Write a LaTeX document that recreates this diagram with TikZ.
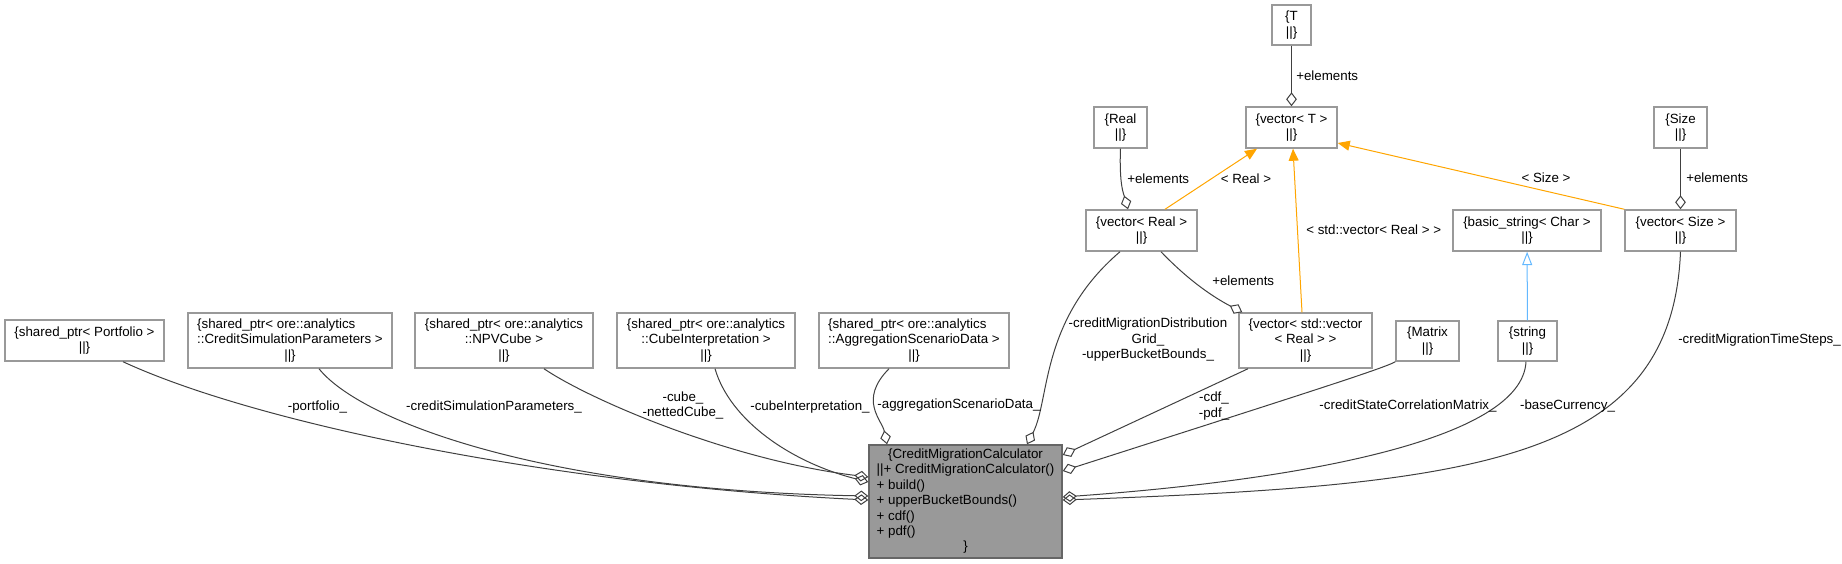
\documentclass[tikz,border=0pt]{standalone}
\usepackage{fontspec}
\setmainfont{Liberation Sans}
\usepackage{tikz}
\usetikzlibrary{arrows.meta}
\usetikzlibrary{calc}

\definecolor{boxgray}{HTML}{999999}
\definecolor{maingray}{HTML}{666666}
\definecolor{mainfill}{HTML}{999999}
\definecolor{edgegray}{HTML}{404040}
\definecolor{tmplorange}{HTML}{FFA500}
\definecolor{inhblue}{HTML}{63B8FF}

% first line flush left under a longer second line
\newlength{\firstwd}
\newcommand{\firstleft}[2]{\settowidth{\firstwd}{#2}\makebox[\firstwd][l]{#1}\\#2}

\begin{document}
\begin{tikzpicture}[x=0.75pt, y=-0.75pt,
    font=\fontsize{10}{11.6}\selectfont,
    sz/.style 2 args={minimum width=#1*0.75pt, minimum height=#2*0.75pt},
    box/.style={draw=boxgray, line width=1.1pt, fill=white, inner sep=0pt, align=center},
    mainbox/.style={draw=maingray, line width=1.1pt, fill=mainfill, inner sep=0pt},
    comp/.style={draw=edgegray, line width=0.75pt, -{Diamond[open, length=10.5pt, width=8pt]}},
    tmpl/.style={draw=tmplorange, line width=0.75pt, -{Triangle[length=9pt, width=7.5pt]}},
    inh/.style={draw=inhblue, line width=0.75pt, -{Triangle[open, length=10pt, width=7.5pt]}},
    lbl/.style={inner sep=0pt, align=center}]
      \useasboundingbox (0,0) rectangle (1842,564);

      % Members held through shared pointers
      \node[box, sz={159}{41}] (portfolio) at (84.5,340.5) {\{shared\_ptr< Portfolio >\\||\}};
      \node[box, sz={204}{55}] (creditsim) at (290,340.5) {\firstleft{\{shared\_ptr< ore::analytics}{::CreditSimulationParameters >}\\||\}};
      \node[box, sz={178}{55}] (npvcube) at (504,340.5) {\{shared\_ptr< ore::analytics\\::NPVCube >\\||\}};
      \node[box, sz={178}{55}] (cubeinterp) at (706,340.5) {\{shared\_ptr< ore::analytics\\::CubeInterpretation >\\||\}};
      \node[box, sz={190}{55}] (aggscen) at (914,340.5) {\firstleft{\{shared\_ptr< ore::analytics}{::AggregationScenarioData >}\\||\}};

      % The calculator itself
      \node[mainbox, sz={193}{113}] (main) at (965.5,501.5) {\begin{tabular}{@{}l@{}}
        \multicolumn{1}{@{}c@{}}{\{CreditMigrationCalculator}\\
        ||+ CreditMigrationCalculator()\\
        + build()\\
        + upperBucketBounds()\\
        + cdf()\\
        + pdf()\\
        \multicolumn{1}{@{}c@{}}{\}}
      \end{tabular}};

      % Vector templates
      \node[box, sz={39}{40}] (tT) at (1291.5,25) {\{T\\||\}};
      \node[box, sz={91}{41}] (vect) at (1291.5,127.5) {\{vector< T >\\||\}};
      \node[box, sz={53}{41}] (real) at (1120.5,127.5) {\{Real\\||\}};
      \node[box, sz={111}{41}] (vecreal) at (1141.5,230.5) {\{vector< Real >\\||\}};
      \node[box, sz={133}{55}] (vecvec) at (1305.5,340.5) {\{vector< std::vector\\< Real > >\\||\}};
      \node[box, sz={53}{41}] (size) at (1680.5,127.5) {\{Size\\||\}};
      \node[box, sz={111}{41}] (vecsize) at (1680.5,230.5) {\{vector< Size >\\||\}};

      % Strings and matrix
      \node[box, sz={148}{41}] (basicstr) at (1527,230.5) {\{basic\_string< Char >\\||\}};
      \node[box, sz={59}{40}] (string) at (1527.5,341) {\{string\\||\}};
      \node[box, sz={63}{40}] (matrix) at (1427.5,341) {\{Matrix\\||\}};

      % Composition into the calculator, left side
      \draw[comp] ($(portfolio.south)+(38.5,0)$) .. controls (260,425) and (560,485) .. ($(main.west)+(0,-1.5)$);
      \draw[comp] ($(creditsim.south)+(29,0)$) .. controls (360,420) and (540,490) .. ($(main.west)+(0,-5.5)$);
      \draw[comp] ($(npvcube.south)+(40,0)$) .. controls (590,400) and (730,460) .. ($(main.west)+(0,-24.5)$);
      \draw[comp] ($(cubeinterp.south)+(9,0)$) .. controls (730,420) and (790,462) .. ($(main.west)+(0,-19.5)$);

      % Composition into the calculator, top
      \draw[comp] ($(aggscen.south)+(-25,0)$) .. controls (858,400) and (882,420) .. ($(main.north)+(-78.5,0)$);
      \draw[comp] ($(vecreal.south)+(-21.5,0)$) .. controls (1040,320) and (1050,400) .. ($(main.north)+(61.5,0)$);

      % Composition into the calculator, right side
      \draw[comp] ($(vecvec.south)+(-57.5,0)$) -- ($(main.east)+(0,-46.5)$);
      \draw[comp] (matrix.south west) .. controls (1385,368) and (1300,395) .. ($(main.east)+(0,-30.5)$);
      \draw[comp] ($(string.south)+(-1.5,0)$) .. controls (1522,440) and (1300,480) .. ($(main.east)+(0,-4.5)$);
      \draw[comp] (vecsize.south) .. controls (1672,460) and (1480,485) .. ($(main.east)+(0,-1.5)$);

      % Elements of the vectors
      \draw[comp] (tT) -- (vect);
      \draw[comp] (size) -- (vecsize);
      \draw[comp] (real.south) .. controls (1119,185) and (1124,195) .. ($(vecreal.north)+(-13.5,0)$);
      \draw[comp] ($(vecreal.south)+(19.5,0)$) .. controls (1190,282) and (1215,298) .. ($(vecvec.north west)+(4,0)$);

      % Template instances
      \draw[tmpl] ($(vecreal.north)+(23.5,0)$) -- ($(vect.south)+(-34.5,0)$);
      \draw[tmpl] ($(vecvec.north)+(-3.5,0)$) -- ($(vect.south)+(1.5,0)$);
      \draw[tmpl] (vecsize.north west) -- ($(vect.east)+(0,15.5)$);

      % Inheritance
      \draw[inh] (string) -- (basicstr);

      % Edge labels
      \node[lbl] (lportfolio) at (317.5,407) {-portfolio\_};
      \node[lbl] (lcreditsim) at (494,407) {-creditSimulationParameters\_};
      \node[lbl] (lcube) at (683,405.5) {-cube\_\\-nettedCube\_};
      \node[lbl] (lcubeinterp) at (810,407) {-cubeInterpretation\_};
      \node[lbl] (laggscen) at (959,405) {-aggregationScenarioData\_};
      \node[lbl] (lgrid) at (1148,340) {-creditMigrationDistribution\\Grid\_\\-upperBucketBounds\_};
      \node[lbl] (lcdf) at (1214,406) {-cdf\_\\-pdf\_};
      \node[lbl] (lmatrix) at (1408,406) {-creditStateCorrelationMatrix\_};
      \node[lbl] (lcurrency) at (1567.5,406) {-baseCurrency\_};
      \node[lbl, anchor=west] (ltimesteps) at (1678,340) {-creditMigrationTimeSteps\_};
      \node[lbl, anchor=west] (lelemT) at (1296,76) {+elements};
      \node[lbl, anchor=west] (lelemReal) at (1127,179) {+elements};
      \node[lbl, anchor=west] (lelemVec) at (1212,281) {+elements};
      \node[lbl, anchor=west] (lelemSize) at (1686,178) {+elements};
      \node[lbl] (lreal) at (1246,179) {< Real >};
      \node[lbl, anchor=west] (lstdvec) at (1306,230) {< std::vector< Real > >};
      \node[lbl] (lsize) at (1546,178) {< Size >};
\end{tikzpicture}
\end{document}
